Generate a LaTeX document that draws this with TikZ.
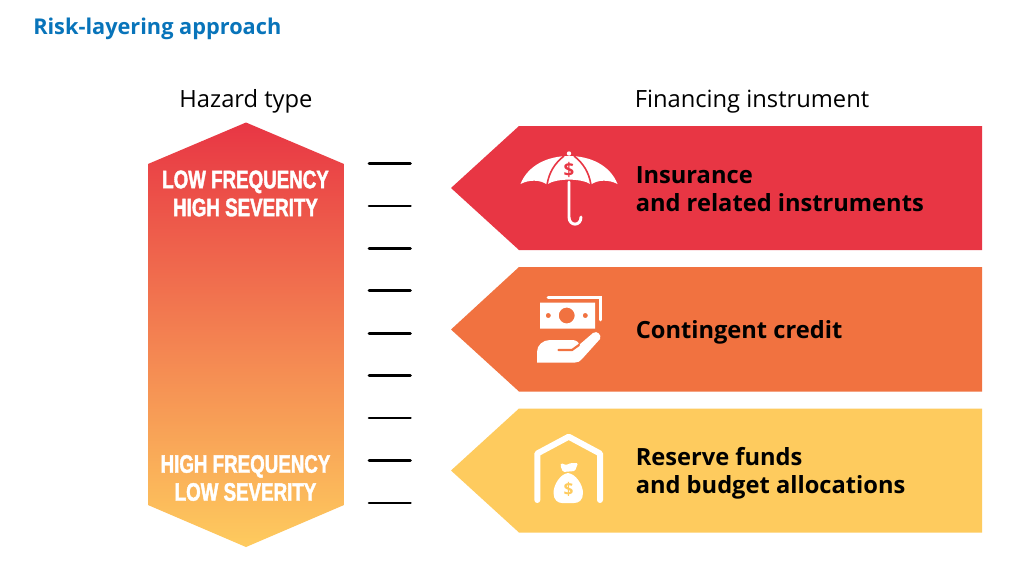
\documentclass[tikz,border=0pt]{standalone}
\usepackage{fontspec}
\setmainfont{Open Sans}
\newfontfamily\condfont{Liberation Sans Bold}[FakeStretch=0.74,FakeBold=1.6]
\definecolor{redc}{RGB}{232,54,68}
\definecolor{orangec}{RGB}{241,114,64}
\definecolor{yellowc}{RGB}{254,203,94}
\definecolor{midc}{RGB}{241,125,78}
\definecolor{bluec}{RGB}{8,116,186}
\tikzset{
 x=0.75pt,y=-0.75pt,
 heading/.style={font=\fontsize{17.8pt}{20pt}\selectfont,text=black,inner sep=0pt,anchor=base},
 title/.style={font=\fontsize{16.3pt}{20pt}\selectfont\bfseries,text=bluec,inner sep=0pt,anchor=base west},
 instr/.style={font=\fontsize{17.75pt}{20.6pt}\selectfont\bfseries,text=black,inner sep=0pt,anchor=west,align=left},
 sev/.style={font=\fontsize{19pt}{21pt}\selectfont\condfont,text=white,inner sep=0pt,align=center},
 tick/.style={line width=2pt,black,line cap=round},
 iconline/.style={white,line cap=round,line join=round},
}
\begin{document}
\begin{tikzpicture}
\useasboundingbox (0,0) rectangle (1020,576);
\fill[white] (0,0) rectangle (1020,576);
\node[title] (ttl) at (33,34) {Risk-layering approach};
\node[heading] (hz) at (246,107) {Hazard type};
\node[heading] (fi) at (752,107) {Financing instrument};
% hazard arrow
\path[shade,top color=redc,middle color=midc,bottom color=yellowc,shading angle=0]
 (246,122.5) -- (344,164) -- (344,505) -- (246,547) -- (148,505) -- (148,164) -- cycle;
\node[sev] (s1) at (245.5,193.5) {LOW FREQUENCY\\HIGH SEVERITY};
\node[sev] (s2) at (245.5,478) {HIGH FREQUENCY\\LOW SEVERITY};
% ticks
\foreach \n/\y in {a/163.5,b/206,c/248.3,d/290.8,e/333.2,f/375.6,g/418,h/460.5,i/503}{
 \coordinate (t\n l) at (369,\y); \coordinate (t\n r) at (410.5,\y);
 \draw[tick] (t\n l) -- (t\n r);
}
% instrument arrows
\fill[redc] (451,188) -- (519,126) -- (982,126) -- (982,250) -- (519,250) -- cycle;
\fill[orangec] (451,329.5) -- (519,267) -- (982,267) -- (982,391.5) -- (519,391.5) -- cycle;
\fill[yellowc] (451,470.5) -- (519,408.5) -- (982,408.5) -- (982,532.5) -- (519,532.5) -- cycle;
\node[instr] (i1) at (635.5,189.2) {Insurance\\and related instruments};
\node[instr] (i2) at (635.5,332.5) {Contingent credit};
\node[instr] (i3) at (635.5,473.2) {Reserve funds\\and budget allocations};
% umbrella
\fill[white] (569,153.5) circle (2.2);
\fill[white] (520.5,184) .. controls (528,165) and (548,156) .. (569,156)
 .. controls (590,156) and (610,165) .. (617.5,184)
 .. controls (609,179.5) and (598,179.5) .. (591,184.5)
 .. controls (582,178) and (556,178) .. (547,184.5)
 .. controls (540,179.5) and (529,179.5) .. (520.5,184) -- cycle;
\draw[redc,line width=1.2pt] (564,156) .. controls (555,163) and (549,172) .. (547,185);
\draw[redc,line width=1.2pt] (574,156) .. controls (583,163) and (589,172) .. (591,185);
\node[inner sep=0pt,text=redc,font=\fontsize{14pt}{14pt}\selectfont\bfseries] (d1) at (569,169.5) {\$};
\draw[iconline,line width=2.2pt] (569,182) -- (569,217) .. controls (569,226.5) and (581,226.5) .. (581,217);
% money
\draw[white,line width=2pt,line cap=round] (548,297.5) -- (600.5,297.5) -- (600.5,320);
\fill[white,even odd rule] (540,302.5) rectangle (595,328.5)
 (566.7,315.5) circle (8) (548.3,315.5) circle (2.6) (585.3,315.5) circle (2.6);
\fill[white] (537,362.5) -- (537,352) .. controls (537,345) and (543,340) .. (550,340) -- (572,340)
 .. controls (576,340) and (579,342) .. (579,345) -- (593,333)
 .. controls (597,330) and (602,335) .. (600,339) -- (582,359)
 .. controls (580,361.5) and (578,362.5) .. (575,362.5) -- cycle;
\draw[orangec,line width=1.6pt,line cap=round] (558.5,350) -- (572,350) -- (579,345);
% store
\draw[iconline,line width=4.5pt] (537.3,500) -- (537.3,453.5) -- (568.7,436.7) -- (600,453.5) -- (600,500);
\fill[white,rounded corners=1pt] (560.5,466) -- (561,463) -- (566,465) -- (571,463) -- (578,463) -- (575,471) -- (563,472) -- cycle;
\fill[white] (568,473) .. controls (560,474) and (553.5,485) .. (553.5,493)
 .. controls (553.5,500) and (558,503) .. (562,503) -- (574,503)
 .. controls (579,503) and (583,500) .. (583,493)
 .. controls (583,485) and (576,474) .. (568,473) -- cycle;
\node[inner sep=0pt,text=yellowc,font=\fontsize{13pt}{13pt}\selectfont\bfseries] (d3) at (568.5,489) {\$};
\end{tikzpicture}
\end{document}
